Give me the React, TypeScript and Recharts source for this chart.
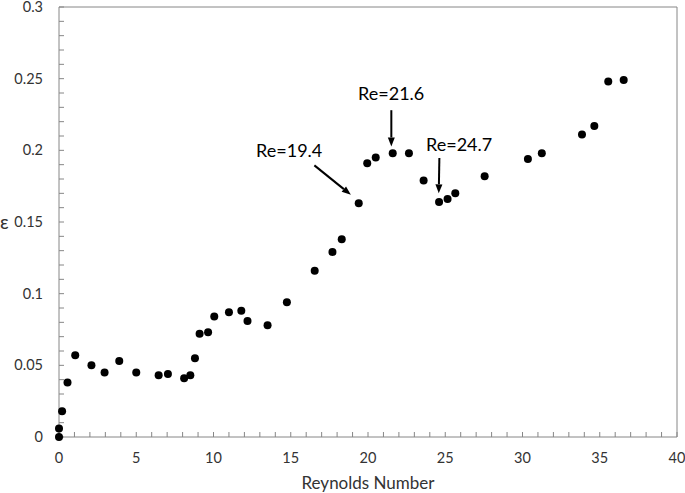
import React from "react";
import { ScatterChart, Scatter, XAxis, YAxis, ReferenceLine, ReferenceDot } from "recharts";

// Reynolds number vs epsilon
const reynolds = [
  0, 0, 0.2, 0.55, 1.05, 2.1, 2.95, 3.9, 5.0, 6.45, 7.05, 8.1, 8.5, 8.8, 9.1, 9.65, 10.05, 11.0, 11.8, 12.2, 13.5,
  14.75, 16.55, 17.7, 18.3, 19.4, 19.95, 20.5, 21.6, 22.65, 23.6, 24.6, 25.15, 25.65, 27.55, 30.35, 31.25, 33.85,
  34.65, 35.55, 36.55,
];
const epsilon = [
  0, 0.006, 0.018, 0.038, 0.057, 0.05, 0.045, 0.053, 0.045, 0.043, 0.044, 0.041, 0.043, 0.055, 0.072, 0.073, 0.084,
  0.087, 0.088, 0.081, 0.078, 0.094, 0.116, 0.129, 0.138, 0.163, 0.191, 0.195, 0.198, 0.198, 0.179, 0.164, 0.166, 0.17,
  0.182, 0.194, 0.198, 0.211, 0.217, 0.248, 0.249,
];

const xTicks = Array.from({ length: 41 }, (_, i) => i);
const yTicks = Array.from({ length: 31 }, (_, i) => i / 100);

// annotations: label text, label position, arrow start and end (data units)
const noteLabels = ["Re=19.4", "Re=21.6", "Re=24.7"];
const noteX = [14.9, 21.5, 25.9];
const noteY = [0.2004, 0.2399, 0.2044];
const arrowFrom = [
  [16.53, 0.1895],
  [21.51, 0.228],
  [24.62, 0.1946],
];
const arrowTo = [
  [18.89, 0.169],
  [21.51, 0.2027],
  [24.58, 0.17],
];

const data = reynolds.map((re, i) => ({ re, eps: epsilon[i] }));

const axisColor = "#868686";
const textColor = "#333";
const font = "Lato, 'Open Sans', sans-serif";

const Arrow = (p: any) => {
  const { x1, y1, x2, y2 } = p;
  const ang = Math.atan2(y2 - y1, x2 - x1);
  const len = 9;
  const half = 3.5;
  const bx = x2 - len * Math.cos(ang);
  const by = y2 - len * Math.sin(ang);
  const px = -Math.sin(ang) * half;
  const py = Math.cos(ang) * half;
  return (
    <g>
      <line x1={x1} y1={y1} x2={bx} y2={by} stroke="#000" strokeWidth={2} />
      <polygon points={`${x2},${y2} ${bx + px},${by + py} ${bx - px},${by - py}`} fill="#000" />
    </g>
  );
};

const fmtX = (v: number) => (v % 5 === 0 ? String(v) : "");
const fmtY = (v: number) => (Math.abs(v * 20 - Math.round(v * 20)) < 1e-6 ? String(+v.toFixed(2)) : "");

export default function App() {
  return (
    <div style={{ position: "absolute", left: 0, top: 0, background: "#fff", fontFamily: font }}>
      <ScatterChart width={685} height={493} margin={{ top: 7, right: 8, bottom: 0, left: 0 }}>
        <XAxis
          dataKey="re"
          type="number"
          domain={[0, 40]}
          ticks={xTicks}
          interval={0}
          tickFormatter={fmtX}
          tickSize={-5}
          tickMargin={21}
          height={56}
          stroke={axisColor}
          tick={{ fill: textColor, fontSize: 14.5, fontFamily: font }}
          label={{ value: "Reynolds Number", position: "insideBottom", offset: 4, fill: textColor, fontSize: 17, fontFamily: font }}
        />
        <YAxis
          dataKey="eps"
          type="number"
          domain={[0, 0.3]}
          ticks={yTicks}
          interval={0}
          tickFormatter={fmtY}
          tickSize={-5}
          tickMargin={21}
          width={59}
          stroke={axisColor}
          tick={{ fill: textColor, fontSize: 14.5, fontFamily: font }}
          label={{ value: "ε", position: "insideLeft", offset: 0, fill: textColor, fontSize: 19, fontFamily: font }}
        />
        <ReferenceLine y={0.3} stroke={axisColor} />
        <ReferenceLine x={40} stroke={axisColor} />
        {noteLabels.map((_, i) => (
          <ReferenceLine
            key={`a${i}`}
            segment={[
              { x: arrowFrom[i][0], y: arrowFrom[i][1] },
              { x: arrowTo[i][0], y: arrowTo[i][1] },
            ]}
            shape={Arrow}
          />
        ))}
        {noteLabels.map((t, i) => (
          <ReferenceDot
            key={`l${i}`}
            x={noteX[i]}
            y={noteY[i]}
            shape={(p: any) => (
              <text x={p.cx} y={p.cy} textAnchor="middle" dominantBaseline="central" fill="#000" fontSize={18} fontFamily={font}>
                {t}
              </text>
            )}
          />
        ))}
        <Scatter
          data={data}
          isAnimationActive={false}
          shape={(p: any) => <circle cx={p.cx} cy={p.cy} r={4} fill="#000" />}
        />
      </ScatterChart>
    </div>
  );
}
